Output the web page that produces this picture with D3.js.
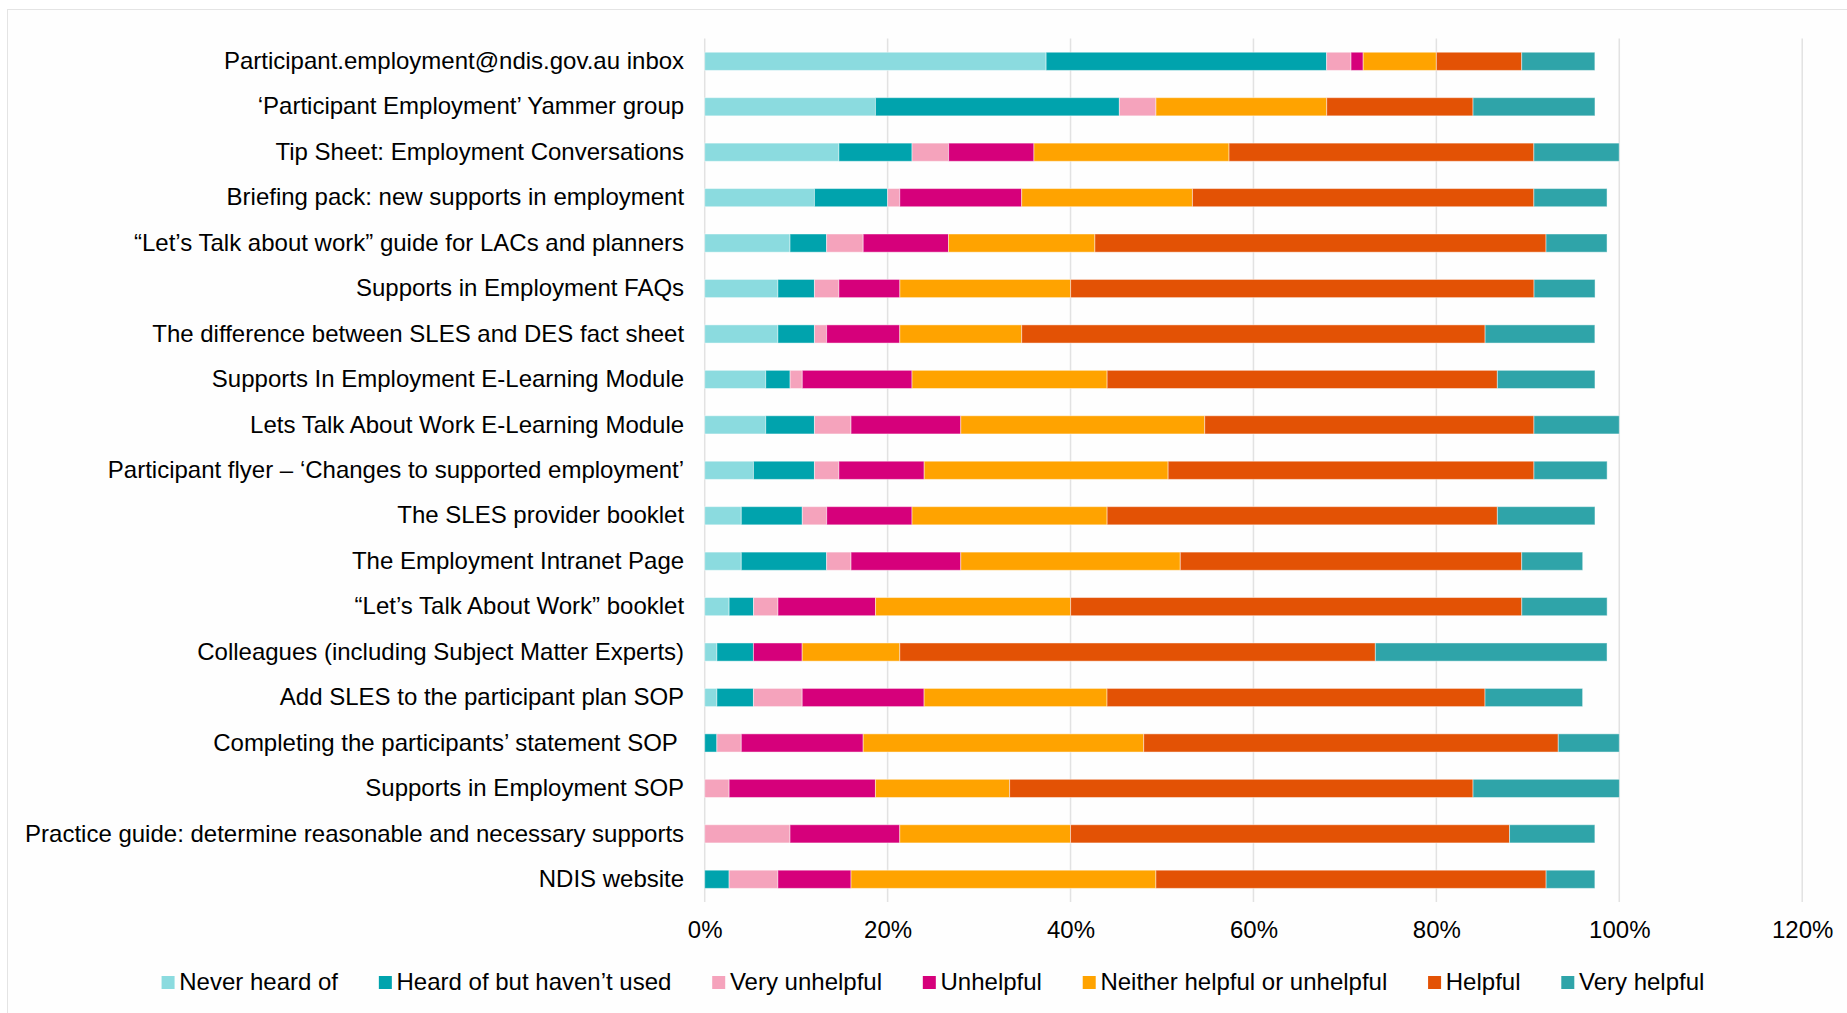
<!DOCTYPE html>
<html>
<head>
<meta charset="utf-8">
<script src="https://cdn.jsdelivr.net/npm/d3@7"></script>
<style>
  html, body { margin: 0; padding: 0; background: #ffffff; }
  svg { display: block; font-family: "Liberation Sans", Arial, sans-serif; }
  text { white-space: pre; }
</style>
</head>
<body>
<svg id="chart" width="1847" height="1013"></svg>
<script>
// ---- data (percent of respondents) ----
const categories = [
  "Participant.employment@ndis.gov.au inbox",
  "‘Participant Employment’ Yammer group",
  "Tip Sheet: Employment Conversations",
  "Briefing pack: new supports in employment",
  "“Let’s Talk about work” guide for LACs and planners",
  "Supports in Employment FAQs",
  "The difference between SLES and DES fact sheet",
  "Supports In Employment E-Learning Module",
  "Lets Talk About Work E-Learning Module",
  "Participant flyer – ‘Changes to supported employment’",
  "The SLES provider booklet",
  "The Employment Intranet Page",
  "“Let’s Talk About Work” booklet",
  "Colleagues (including Subject Matter Experts)",
  "Add SLES to the participant plan SOP",
  "Completing the participants’ statement SOP ",
  "Supports in Employment SOP",
  "Practice guide: determine reasonable and necessary supports",
  "NDIS website"
];
const seriesNames = ["Never heard of", "Heard of but haven’t used", "Very unhelpful", "Unhelpful", "Neither helpful or unhelpful", "Helpful", "Very helpful"];
const neverHeard   = [37.33, 18.67, 14.67, 12.00, 9.33, 8.00, 8.00, 6.67, 6.67, 5.33, 4.00, 4.00, 2.67, 1.33, 1.33, 0, 0, 0, 0];
const heardNotUsed = [30.67, 26.67, 8.00, 8.00, 4.00, 4.00, 4.00, 2.67, 5.33, 6.67, 6.67, 9.33, 2.67, 4.00, 4.00, 1.33, 0, 0, 2.67];
const veryUnhelpful= [2.67, 4.00, 4.00, 1.33, 4.00, 2.67, 1.33, 1.33, 4.00, 2.67, 2.67, 2.67, 2.67, 0, 5.33, 2.67, 2.67, 9.33, 5.33];
const unhelpful    = [1.33, 0, 9.33, 13.33, 9.33, 6.67, 8.00, 12.00, 12.00, 9.33, 9.33, 12.00, 10.67, 5.33, 13.33, 13.33, 16.00, 12.00, 8.00];
const neither      = [8.00, 18.67, 21.33, 18.67, 16.00, 18.67, 13.33, 21.33, 26.67, 26.67, 21.33, 24.00, 21.33, 10.67, 20.00, 30.67, 14.67, 18.67, 33.33];
const helpful      = [9.33, 16.00, 33.33, 37.33, 49.33, 50.67, 50.67, 42.67, 36.00, 40.00, 42.67, 37.33, 49.33, 52.00, 41.33, 45.33, 50.67, 48.00, 42.67];
const veryHelpful  = [8.00, 13.33, 9.33, 8.00, 6.67, 6.67, 12.00, 10.67, 9.33, 8.00, 10.67, 6.67, 9.33, 25.33, 10.67, 6.67, 16.00, 9.33, 5.33];
const xTicks = [0, 20, 40, 60, 80, 100, 120];
const colors = ["#8BDBDF", "#00A3AD", "#F5A3BC", "#D6007B", "#FFA300", "#E35205", "#2FA4A9"];

const seriesValues = [neverHeard, heardNotUsed, veryUnhelpful, unhelpful, neither, helpful, veryHelpful];
const rows = categories.map((c, i) => {
  const r = { category: c };
  seriesNames.forEach((s, j) => r[s] = seriesValues[j][i]);
  return r;
});
const stacked = d3.stack().keys(seriesNames)(rows);

// ---- layout ----
const svg = d3.select("#chart");
const plot = { left: 704.7, right: 1802.2, top: 38.6, bottom: 902 };
const fontSize = 24;

// outer frame
svg.append("rect").attr("x", 7.5).attr("y", 9.5).attr("width", 1860).attr("height", 1030)
  .attr("fill", "#fefefe").attr("stroke", "#e4e4e4").attr("stroke-width", 1);

const x = d3.scaleLinear().domain([0, 120]).range([plot.left, plot.right]);
const y = d3.scaleBand().domain(categories).range([plot.top, plot.bottom]).paddingInner(0.6).paddingOuter(0.3);
const color = d3.scaleOrdinal().domain(seriesNames).range(colors);

// gridlines
svg.append("g").selectAll("line").data(xTicks).join("line")
  .attr("x1", d => x(d)).attr("x2", d => x(d))
  .attr("y1", plot.top).attr("y2", plot.bottom)
  .attr("stroke", "#e2e2e2").attr("stroke-width", 1.5);

// bars
svg.append("g").selectAll("g").data(stacked).join("g")
  .attr("fill", d => color(d.key))
  .selectAll("rect").data(d => d.filter(p => p[1] - p[0] > 0)).join("rect")
  .attr("x", d => x(d[0]))
  .attr("width", d => x(d[1]) - x(d[0]))
  .attr("y", d => y(d.data.category))
  .attr("height", y.bandwidth())
  .attr("stroke", "rgba(255,255,255,0.45)").attr("stroke-width", 1);

// x axis
const xAxis = d3.axisBottom(x).tickValues(xTicks).tickFormat(d => d + "%").tickSize(0).tickPadding(19);
const gx = svg.append("g").attr("transform", `translate(0,${plot.bottom})`).call(xAxis);
gx.select(".domain").remove();
gx.selectAll("text").attr("font-size", fontSize).attr("font-family", "Liberation Sans, Arial, sans-serif").attr("fill", "#000");

// y axis labels
const yAxis = d3.axisLeft(y).tickSize(0).tickPadding(20.6);
const gy = svg.append("g").attr("transform", `translate(${plot.left},0)`).call(yAxis);
gy.select(".domain").remove();
gy.selectAll("text").attr("font-size", fontSize).attr("font-family", "Liberation Sans, Arial, sans-serif").attr("fill", "#000");

// legend
const legend = svg.append("g");
const items = legend.selectAll("g").data(seriesNames).join("g");
items.append("rect").attr("width", 13).attr("height", 13).attr("y", -13).attr("fill", d => color(d));
items.append("text").attr("x", 17.7).attr("y", 0).attr("dy", "0.05em")
  .attr("font-size", fontSize).attr("fill", "#000").text(d => d);
let cx = 0;
const gap = 40.8;
items.each(function() {
  const g = d3.select(this);
  g.attr("transform", `translate(${cx},0)`);
  cx += 17.7 + g.select("text").node().getComputedTextLength() + gap;
});
const total = cx - gap;
legend.attr("transform", `translate(${933 - total / 2},989)`);
</script>
</body>
</html>
